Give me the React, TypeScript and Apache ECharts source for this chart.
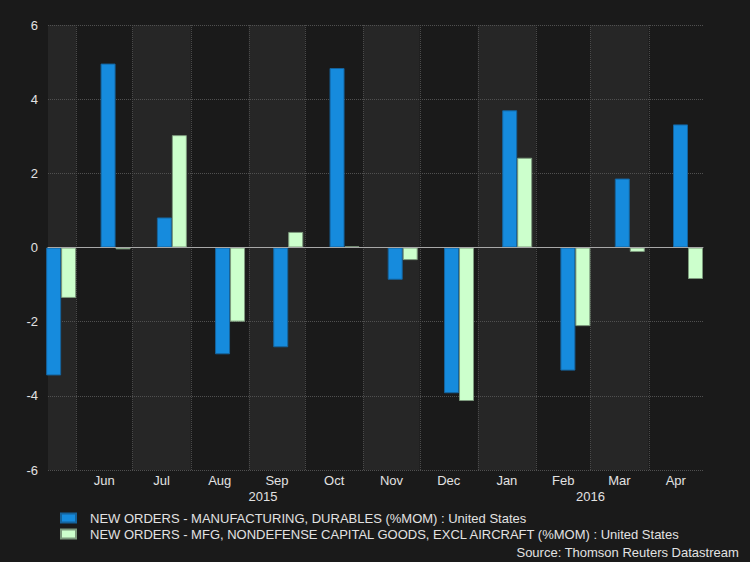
import React, { useEffect, useRef } from "react";
import * as echarts from "echarts";

// ---- data ----
const monthStarts = [
  "2015-05-01", "2015-06-01", "2015-07-01", "2015-08-01", "2015-09-01", "2015-10-01",
  "2015-11-01", "2015-12-01", "2016-01-01", "2016-02-01", "2016-03-01", "2016-04-01",
];
const monthEnds = [
  "2015-06-01", "2015-07-01", "2015-08-01", "2015-09-01", "2015-10-01", "2015-11-01",
  "2015-12-01", "2016-01-01", "2016-02-01", "2016-03-01", "2016-04-01", "2016-05-01",
];
const monthLabels = ["", "Jun", "Jul", "Aug", "Sep", "Oct", "Nov", "Dec", "Jan", "Feb", "Mar", "Apr"];
const releaseDates = [
  "2015-05-24", "2015-06-22", "2015-07-22", "2015-08-22", "2015-09-22", "2015-10-22",
  "2015-11-22", "2015-12-22", "2016-01-22", "2016-02-22", "2016-03-22", "2016-04-22",
];
const durables = [-3.45, 4.96, 0.81, -2.88, -2.69, 4.84, -0.87, -3.93, 3.7, -3.32, 1.86, 3.32];
const capitalGoods = [-1.36, -0.05, 3.03, -2.0, 0.42, 0.03, -0.34, -4.14, 2.42, -2.12, -0.12, -0.85];
const years = ["2015", "2016"];
const yearStarts = ["2015-05-17", "2016-01-01"];
const yearEnds = ["2016-01-01", "2016-04-30"];
const axisStart = "2015-05-17";
const axisEnd = "2016-04-30";
const seriesNames = [
  "NEW ORDERS - MANUFACTURING, DURABLES (%MOM) : United States",
  "NEW ORDERS - MFG, NONDEFENSE CAPITAL GOODS, EXCL AIRCRAFT (%MOM) : United States",
];
const sourceText = "Source: Thomson Reuters Datastream";

const ts = (d: string) => new Date(d + "T00:00:00Z").getTime();

const FONT = '"Liberation Sans", Arial, sans-serif';
const TEXT = "#e2e2e2";

export default function App() {
  const ref = useRef<HTMLDivElement>(null);
  useEffect(() => {
    document.body.style.margin = "0";
    const chart = echarts.init(ref.current!, null, { renderer: "svg" });
    const bandData = monthStarts.map((s, i) => [ts(s), ts(monthEnds[i]), i % 2 === 0 ? 1 : 0, monthLabels[i]]);
    const yearData = years.map((y, i) => [ts(yearStarts[i]), ts(yearEnds[i]), y]);
    chart.setOption({
      animation: false,
      backgroundColor: "#1a1a1a",
      textStyle: { fontFamily: FONT },
      grid: { left: 48, right: 47, top: 25, bottom: 92, containLabel: false },
      xAxis: {
        type: "value",
        min: ts(axisStart),
        max: ts(axisEnd),
        z: 3,
        axisLine: { show: true, onZero: true, lineStyle: { color: "#a8a8a8", width: 1 } },
        axisTick: { show: false },
        axisLabel: { show: false },
        splitLine: { show: false },
      },
      yAxis: {
        type: "value",
        min: -6,
        max: 6,
        interval: 2,
        axisLine: { show: false },
        axisTick: { show: false },
        axisLabel: { color: TEXT, fontSize: 13, fontFamily: FONT, margin: 10 },
        splitLine: { show: true, lineStyle: { color: "#505050", type: [1, 1], width: 1 } },
      },
      legend: {
        orient: "vertical",
        left: 60,
        top: 511,
        padding: 0,
        itemWidth: 15,
        itemHeight: 9,
        itemGap: 2,
        icon: "rect",
        textStyle: { color: TEXT, fontSize: 13, fontFamily: FONT, lineHeight: 14, padding: [0, 0, 0, 9] },
        data: seriesNames,
      },
      graphic: [
        {
          type: "text",
          right: 11,
          top: 546,
          style: { text: sourceText, fill: TEXT, font: `13px ${FONT}` },
        },
      ],
      series: [
        {
          type: "custom",
          name: "bands",
          z: -1,
          silent: true,
          clip: false,
          data: bandData,
          renderItem: (params: any, api: any) => {
            const cs = params.coordSys;
            const p0 = api.coord([api.value(0), 6]);
            const p1 = api.coord([api.value(1), -6]);
            const x0 = Math.max(p0[0], cs.x);
            const x1 = Math.min(p1[0], cs.x + cs.width);
            const children: any[] = [];
            if (api.value(2) === 1) {
              children.push({
                type: "rect",
                shape: { x: x0, y: cs.y, width: x1 - x0, height: cs.height },
                style: { fill: "#262626" },
              });
            }
            if (p0[0] > cs.x) {
              children.push({
                type: "line",
                shape: { x1: Math.round(x0) + 0.5, y1: cs.y, x2: Math.round(x0) + 0.5, y2: cs.y + cs.height },
                style: { stroke: "#4a4a4a", lineWidth: 1, lineDash: [1, 1] },
              });
            }
            const label = bandData[params.dataIndex][3] as string;
            if (label) {
              children.push({
                type: "text",
                x: (x0 + x1) / 2,
                y: cs.y + cs.height + 4,
                style: { text: label, fill: TEXT, font: `13px ${FONT}`, align: "center", verticalAlign: "top" },
              });
            }
            return { type: "group", children };
          },
        },
        {
          type: "custom",
          name: "years",
          silent: true,
          clip: false,
          data: yearData,
          renderItem: (params: any, api: any) => {
            const cs = params.coordSys;
            const p0 = api.coord([api.value(0), -6]);
            const p1 = api.coord([api.value(1), -6]);
            const x0 = Math.max(p0[0], cs.x);
            const x1 = Math.min(p1[0], cs.x + cs.width);
            return {
              type: "text",
              x: (x0 + x1) / 2,
              y: cs.y + cs.height + 20,
              style: {
                text: yearData[params.dataIndex][2] as string,
                fill: TEXT,
                font: `13px ${FONT}`,
                align: "center",
                verticalAlign: "top",
              },
            };
          },
        },
        {
          type: "bar",
          name: seriesNames[0],
          barWidth: 15,
          barGap: "0%",
          clip: true,
          itemStyle: { color: "#168bdd", borderColor: "#15639c", borderWidth: 1 },
          data: releaseDates.map((d, i) => [ts(d), durables[i]]),
        },
        {
          type: "bar",
          name: seriesNames[1],
          barWidth: 15,
          barGap: "0%",
          clip: true,
          itemStyle: { color: "#ccffcc", borderColor: "#7d9a7d", borderWidth: 1 },
          data: releaseDates.map((d, i) => [ts(d), capitalGoods[i]]),
        },
      ],
    });
    return () => chart.dispose();
  }, []);
  return <div ref={ref} style={{ width: 750, height: 562 }} />;
}
